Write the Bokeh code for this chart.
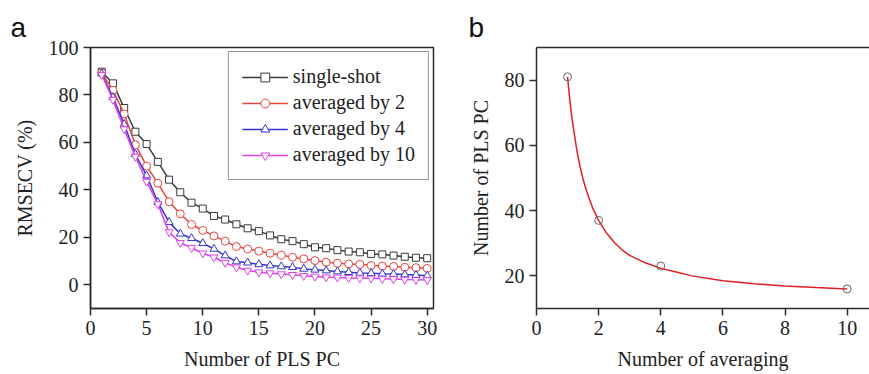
from bokeh.plotting import figure
from bokeh.layouts import row
from bokeh.models import Range1d, FixedTicker, Legend, LegendItem, LinearAxis, Title
from bokeh.embed import file_html
from bokeh.resources import INLINE

# ---- data panel a ----
pc = list(range(1, 31))
single_shot = [89.8, 84.9, 74.5, 64.5, 59.3, 51.8, 44.3, 39.0, 34.6, 32.1, 29.0, 27.5, 25.5, 23.8, 22.6,
               20.8, 19.2, 18.4, 17.1, 15.8, 15.4, 14.6, 14.0, 13.7, 13.0, 12.8, 12.3, 11.8, 11.4, 11.2]
avg2 = [89.3, 82.0, 72.0, 59.0, 50.0, 42.8, 35.0, 29.9, 25.4, 22.9, 20.6, 18.4, 16.1, 15.1, 14.2,
        13.3, 12.5, 11.6, 10.9, 10.2, 9.5, 9.1, 8.8, 8.6, 8.1, 7.9, 7.7, 7.4, 7.2, 6.9]
avg4 = [89.0, 79.0, 67.7, 55.0, 46.0, 34.8, 26.4, 21.5, 19.6, 17.5, 15.1, 12.3, 9.8, 9.3, 8.6,
        8.1, 7.7, 7.4, 6.7, 6.3, 6.0, 5.6, 5.3, 5.0, 4.9, 4.6, 4.5, 4.3, 4.1, 3.8]
avg10 = [88.5, 78.0, 65.6, 54.0, 43.5, 34.0, 22.2, 17.7, 15.6, 13.3, 11.6, 9.3, 7.4, 6.0, 5.3,
         4.9, 4.5, 4.2, 3.8, 3.5, 3.2, 3.1, 2.9, 2.8, 2.7, 2.5, 2.4, 2.2, 2.1, 2.0]
series_labels = ["single-shot", "averaged by 2", "averaged by 4", "averaged by 10"]
a_xticks = [0, 5, 10, 15, 20, 25, 30]
a_yticks = [0, 20, 40, 60, 80, 100]

# ---- data panel b ----
n_avg = [1, 2, 4, 10]
n_pc = [81, 37, 23, 16]
curve_x = [1.0, 1.05, 1.1, 1.15, 1.2, 1.3, 1.4, 1.5, 1.6, 1.8, 2.0, 2.25, 2.5, 2.75, 3.0, 3.5, 4.0,
           4.5, 5.0, 6.0, 7.0, 8.0, 9.0, 10.0]
curve_y = [81.0, 76.0, 71.5, 67.8, 64.6, 58.4, 53.6, 49.6, 46.3, 41.0, 37.0, 33.2, 30.3, 28.0, 26.3,
           24.0, 22.3, 21.2, 20.0, 18.5, 17.6, 16.9, 16.4, 16.0]
b_xticks = [0, 2, 4, 6, 8, 10]
b_yticks = [20, 40, 60, 80]

SERIF = "Liberation Serif"
AX = "#2b2b2b"
TXT = "#222222"


def make_axis(ticks, label):
    return LinearAxis(
        ticker=FixedTicker(ticks=ticks), axis_label=label,
        major_label_text_font=SERIF, major_label_text_font_size="15pt",
        major_label_text_color=TXT, major_label_standoff=5,
        axis_line_color=AX, axis_line_width=1.5,
        major_tick_line_color=AX, major_tick_line_width=1.5,
        major_tick_in=0, major_tick_out=7, minor_tick_line_color=None,
        axis_label_text_font=SERIF, axis_label_text_font_size="20px",
        axis_label_text_font_style="normal", axis_label_text_color=TXT,
        axis_label_standoff=10,
    )


def base_fig(width, xr, yr, bl, br):
    p = figure(width=width, height=374, output_backend="svg", toolbar_location=None,
               x_range=xr, y_range=yr, x_axis_location=None, y_axis_location=None,
               min_border_left=bl, min_border_right=br, min_border_top=47, min_border_bottom=66)
    p.xgrid.grid_line_color = None
    p.ygrid.grid_line_color = None
    p.outline_line_color = AX
    p.outline_line_width = 1.5
    return p


def panel_title(text, offset):
    return Title(text=text, text_font="Liberation Sans", text_font_size="28px",
                 text_font_style="normal", text_color="#111111", align="left",
                 offset=offset, standoff=9)


# ---- panel a ----
pa = base_fig(440, Range1d(0, 30.56), Range1d(-10, 100), 90, 7)
pa.add_layout(make_axis(a_xticks, "Number of PLS PC"), "below")
pa.add_layout(make_axis(a_yticks, "RMSECV (%)"), "left")
pa.add_layout(panel_title("a", -80), "above")

colors = ["#3a3a3a", "#e8453c", "#3535d0", "#e040e8"]
markers = ["square", "circle", "triangle", "inverted_triangle"]
sizes = [7, 8, 8, 8]
items = []
for ys, c, m, s, lab in zip([single_shot, avg2, avg4, avg10], colors, markers, sizes, series_labels):
    ln = pa.line(pc, ys, line_color=c, line_width=1.5)
    sc = pa.scatter(pc, ys, marker=m, size=s, line_color=c, fill_color="white", line_width=1)
    items.append(LegendItem(label=lab, renderers=[ln, sc]))

leg = Legend(items=items, location="top_right")
leg.border_line_color = AX
leg.border_line_width = 1.5
leg.label_text_font = SERIF
leg.label_text_font_size = "20px"
leg.label_text_color = TXT
leg.glyph_width = 46
leg.glyph_height = 22
leg.label_height = 22
leg.spacing = 3
leg.padding = 13
leg.margin = 4
leg.label_standoff = 5
leg.background_fill_alpha = 1
pa.add_layout(leg)

# ---- panel b ----
pb = base_fig(429, Range1d(0, 10.72), Range1d(10, 90), 96, 0)
pb.outline_line_color = None
pb.add_layout(make_axis(b_xticks, "Number of averaging"), "below")
pb.add_layout(make_axis(b_yticks, "Number of PLS PC"), "left")
pb.add_layout(LinearAxis(ticker=FixedTicker(ticks=[]), major_tick_line_color=None,
                         minor_tick_line_color=None, axis_line_color=AX, axis_line_width=1.5), "above")
pb.add_layout(panel_title("b", -68), "above")
pb.line(curve_x, curve_y, line_color="#e02020", line_width=1.5)
pb.scatter(n_avg, n_pc, marker="circle", size=8, line_color="#666666", fill_color=None, line_width=1)

layout = row(pa, pb)
open("out.html", "w").write(file_html(layout, INLINE))
